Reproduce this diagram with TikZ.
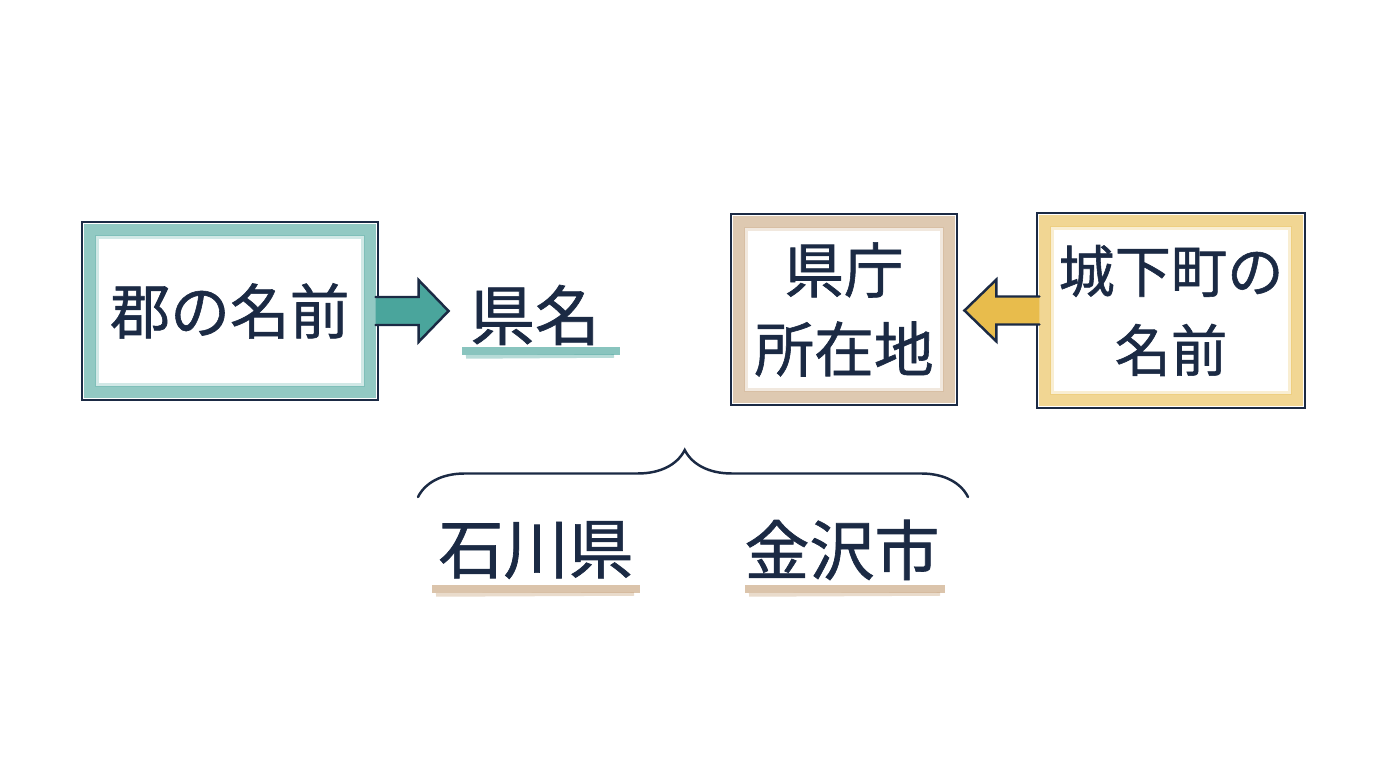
\documentclass[tikz,border=0pt]{standalone}
\usepackage{fontspec}
\usepackage{tikz}
\usetikzlibrary{positioning,decorations.pathreplacing}
\newfontfamily\jpfont[FakeBold=1]{Noto Sans CJK JP}
\definecolor{ink}{HTML}{1B2A44}
\definecolor{pencilteal}{HTML}{4AA59C}
\definecolor{penciltan}{HTML}{C8A57E}
\definecolor{pencilgold}{HTML}{E8BC4C}

\begin{document}
\begin{tikzpicture}[scale=1, line cap=round,
  namebox/.style={draw=ink, line width=0.6pt, fill=white, inner sep=0pt, align=center, text=ink,
    path picture={
      \draw[#1, line width=3.2pt, opacity=0.6, line cap=butt]
        ([shift={(0.08,-0.08)}]path picture bounding box.north west) rectangle
        ([shift={(-0.08,0.08)}]path picture bounding box.south east);
      \draw[#1, line width=1.2pt, opacity=0.25]
        ([shift={(0.15,-0.15)}]path picture bounding box.north west) rectangle
        ([shift={(-0.15,0.15)}]path picture bounding box.south east);
    }},
  word/.style={text=ink, inner sep=0pt, font=\jpfont\fontsize{18.5}{22}\selectfont},
  fat/.style={draw=ink, fill=#1, line width=0.7pt, line join=miter},
  pencil/.style={draw=#1, line width=2.4pt, opacity=0.65, line cap=butt},
  font=\jpfont\fontsize{17}{20.5}\selectfont]

\useasboundingbox[fill=white] (0,0) rectangle (13.76,7.68);

\node[namebox=pencilteal, minimum width=2.96cm, minimum height=1.78cm] (gunname) at (2.30,4.57) {郡の名前};
\node[word] (kenmei) at (5.35,4.53) {県名};
\draw[pencil=pencilteal] (4.62,4.17) -- (6.20,4.17);
\draw[pencil=pencilteal, line width=1pt, opacity=0.4] (4.66,4.11) -- (6.14,4.12);

\node[namebox=penciltan, minimum width=2.26cm, minimum height=1.91cm] (kencho) at (8.44,4.585) {県庁\\[2pt]所在地};
\node[namebox=pencilgold, minimum width=2.68cm, minimum height=1.95cm,
  font=\jpfont\fontsize{16}{20.5}\selectfont] (joka) at (11.71,4.575) {城下町の\\[2pt]名前};

\filldraw[fat=pencilteal] ([xshift=-1pt]gunname.east) ++(0,0.14) -- ++(0.43,0) -- ++(0,0.17)
  -- ++(0.30,-0.31) -- ++(-0.30,-0.31) -- ++(0,0.17) -- ++(-0.43,0);
\filldraw[fat=pencilgold] ([xshift=1pt]joka.west) ++(0,0.14) -- ++(-0.43,0) -- ++(0,0.17)
  -- ++(-0.32,-0.31) -- ++(0.32,-0.31) -- ++(0,0.17) -- ++(0.43,0);

\coordinate (braceleft) at (4.18,2.71);
\coordinate (braceright) at (9.68,2.71);
\draw[ink, line width=0.7pt, decorate, decoration={brace, amplitude=0.47cm, aspect=0.485}] (braceleft) -- (braceright);

\node[word] (ishikawa) at (5.36,2.18) {石川県};
\draw[pencil=penciltan] (4.32,1.79) -- (6.40,1.79);
\draw[pencil=penciltan, line width=1pt, opacity=0.4] (4.36,1.73) -- (6.34,1.74);
\node[word] (kanazawa) at (8.42,2.18) {金沢市};
\draw[pencil=penciltan] (7.45,1.79) -- (9.45,1.79);
\draw[pencil=penciltan, line width=1pt, opacity=0.4] (7.49,1.73) -- (9.40,1.74);

\end{tikzpicture}
\end{document}
